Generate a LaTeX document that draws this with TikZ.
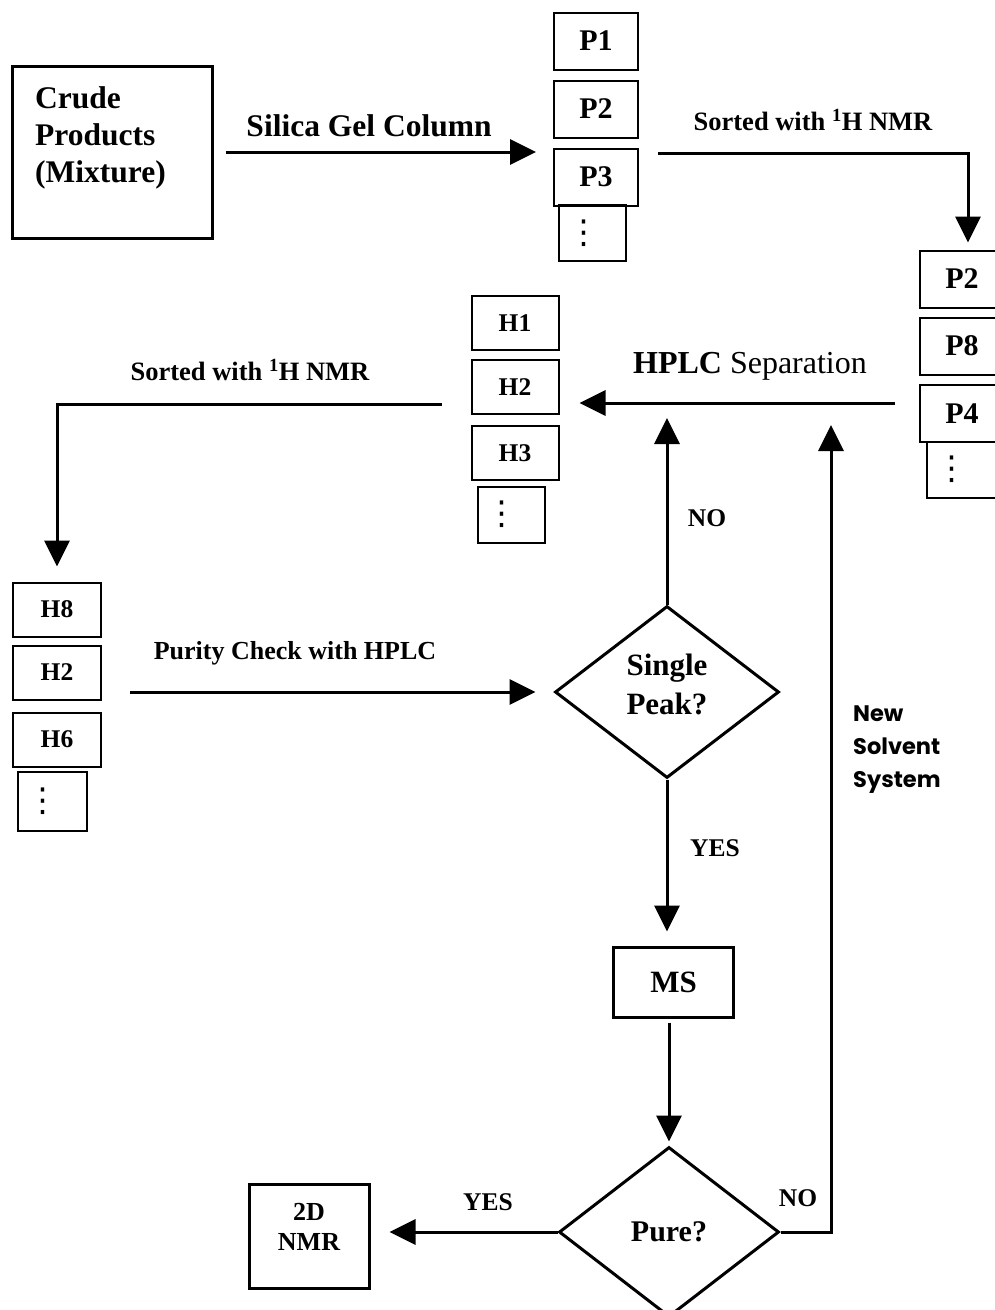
\documentclass[tikz,border=0pt]{standalone}
\usepackage{fontspec}
\setmainfont{Liberation Serif}
\newfontfamily\gothic{Poppins}
\newfontfamily\djv{DejaVu Sans}
\usetikzlibrary{arrows.meta,shapes.geometric}
\newcommand{\vdotsx}{{\djv\fontsize{33}{33}\selectfont ⋮}}
\tikzset{
  pbox/.style={draw, line width=2pt, inner sep=0pt, minimum width=84pt, minimum height=57pt,
    font=\fontsize{30}{36}\selectfont\bfseries},
  hbox/.style={draw, line width=2pt, inner sep=0pt, minimum width=87pt, minimum height=54pt,
    font=\fontsize{25.5}{30}\selectfont\bfseries},
  dotbox/.style={draw, line width=2pt, inner sep=0pt, minimum width=67pt, minimum height=56pt},
  bigbox/.style={draw, line width=3pt, inner sep=0pt},
  arr/.style={line width=3pt, -{Triangle[length=26pt,width=25pt]}},
  dec/.style={diamond, draw, line width=3pt, inner sep=0pt, align=center},
  lbl/.style={inner sep=0pt, font=\fontsize{25.5}{30}\selectfont\bfseries},
  lblbig/.style={inner sep=0pt, font=\fontsize{31.5}{37}\selectfont\bfseries},
}
\begin{document}
\begin{tikzpicture}[x=1pt,y=-1pt]
\useasboundingbox (0,0) rectangle (995,1310);
\clip (0,0) rectangle (995,1310);
\fill[white] (0,0) rectangle (995,1310);

% crude products
\node[bigbox, minimum width=200pt, minimum height=172pt] (crude) at (112,152) {};
\node[lblbig, anchor=west, align=left] (crudetext) at (35,138) {Crude\\Products\\(Mixture)};

% P column
\node[pbox] (P1) at (596,41) {P1};
\node[pbox] (P2) at (596,109) {P2};
\node[pbox] (P3) at (596,177) {P3};
\node[dotbox] (Pd) at (592.5,233) {\hspace*{-18pt}\vdotsx};

% right P column
\node[pbox] (rP2) at (962,279) {P2};
\node[pbox] (rP8) at (962,346) {P8};
\node[pbox] (rP4) at (962,413.5) {P4};
\node[dotbox, minimum width=73pt] (rPd) at (963.5,469.5) {\hspace*{-24pt}\vdotsx};

% H column
\node[hbox] (H1) at (515,323) {H1};
\node[hbox] (H2) at (515,387) {H2};
\node[hbox] (H3) at (515,453) {H3};
\node[dotbox] (Hd) at (511.5,514.5) {\hspace*{-20pt}\vdotsx};

% lower-left H column
\node[hbox, minimum width=88pt] (H8) at (57,609.5) {H8};
\node[hbox, minimum width=88pt] (H2b) at (57,672.5) {H2};
\node[hbox, minimum width=88pt] (H6) at (57,739.5) {H6};
\node[dotbox, minimum width=69pt, minimum height=59pt] (H6d) at (52.5,801.5) {\hspace*{-20pt}\vdotsx};

% decisions and boxes
\node[dec, minimum width=224pt, minimum height=172pt, font=\fontsize{31}{39}\selectfont\bfseries] (sp) at (667,692)
  {\raisebox{5pt}[\height][\depth]{\begin{tabular}{@{}c@{}}Single\\[-0.5pt]Peak?\end{tabular}}};
\node[bigbox, minimum width=120pt, minimum height=70pt, font=\fontsize{31}{37}\selectfont\bfseries] (MS) at (673.5,982) {MS};
\node[dec, minimum width=220pt, minimum height=170pt, font=\fontsize{30}{36}\selectfont\bfseries] (pure) at (669,1232) {Pure?};
\node[bigbox, minimum width=120pt, minimum height=104pt, font=\fontsize{26}{30}\selectfont\bfseries] (nmr) at (309,1236)
  {\raisebox{7pt}[\height][\depth]{\begin{tabular}{@{}c@{}}2D\\NMR\end{tabular}}};

% coordinates
\coordinate (c1) at (968,153);
\coordinate (c2) at (895,403);
\coordinate (c3) at (57,404);
\coordinate (c5) at (831,1232);

% connectors
\draw[arr] ([xshift=12pt]crude.east) -- ([xshift=-17pt]P3.west |- crude.east);
\draw[arr] ([xshift=19pt]P3.east |- c1) -- (c1) -- ([yshift=7pt]rP2.north -| c1);
\draw[arr] (c2) -- ([xshift=20pt]H2.east |- c2);
\draw[arr] ([xshift=-29pt]H2.west |- c3) -- (c3) -- ([yshift=15pt]H8.north -| c3);
\draw[arr] ([xshift=28pt]H2b.east |- sp.west) -- ([xshift=-18pt]sp.west);
\draw[arr] (sp.north) -- ([yshift=-15pt]sp.north |- c2);
\draw[arr] (sp.south) -- ([yshift=14pt]sp.south |- MS.north);
\draw[arr] ([yshift=-4pt]MS.south -| pure.north) -- ([yshift=4pt]pure.north);
\draw[arr] (pure.west) -- ([xshift=19pt]nmr.east |- pure.west);
\draw[arr] (pure.east) -- (c5) -- ([yshift=-22pt]c5 |- c2);

% labels
\node[lblbig] (silica) at (369,126) {Silica Gel Column};
\node[inner sep=0pt, font=\fontsize{26.5}{30}\selectfont\bfseries] (sorted1) at (813,120) {Sorted with \textsuperscript{1}H NMR};
\node[inner sep=0pt, font=\fontsize{32}{38}\selectfont] (hplc) at (750,366) {\textbf{HPLC} Separation};
\node[inner sep=0pt, font=\fontsize{26.5}{30}\selectfont\bfseries] (sorted2) at (250,370) {Sorted with \textsuperscript{1}H NMR};
\node[inner sep=0pt, font=\fontsize{26}{30}\selectfont\bfseries] (purity) at (295,653) {Purity Check with HPLC};
\node[lbl] (no1) at (707,518) {NO};
\node[lbl] (yes1) at (715,848) {YES};
\node[lbl] (yes2) at (488,1202) {YES};
\node[lbl] (no2) at (798,1198) {NO};
\node[inner sep=0pt, anchor=west, align=left, font=\fontsize{22.5}{33}\selectfont\gothic\bfseries] (newsolv) at (853,750) {New\\Solvent\\System};
\end{tikzpicture}
\end{document}
